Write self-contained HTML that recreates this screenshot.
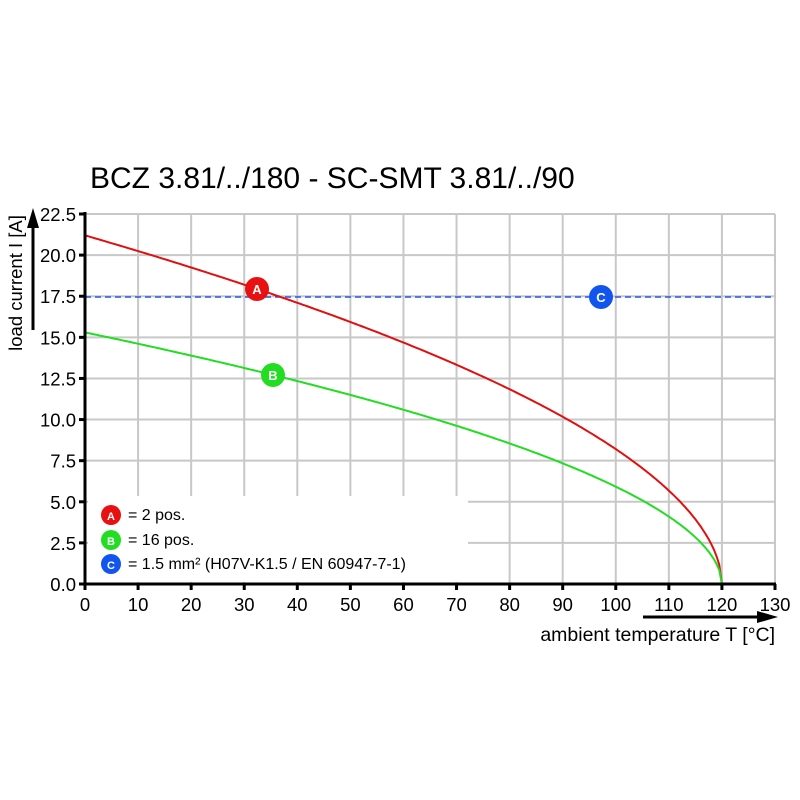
<!DOCTYPE html>
<html><head><meta charset="utf-8"><style>
html,body{margin:0;padding:0;background:#fff;}
svg{display:block;font-family:"Liberation Sans",Arial,sans-serif;}
</style></head><body>
<svg id="s" width="800" height="800" xmlns="http://www.w3.org/2000/svg">
<rect width="800" height="800" fill="#fff"/>
<text x="90" y="188" font-size="30" fill="#000">BCZ 3.81/../180 - SC-SMT 3.81/../90</text>
<g id="grid" stroke="#c8c8c8" stroke-width="2"></g>
<rect x="88" y="496" width="380" height="86" fill="#fff"/>
<line x1="85" y1="297" x2="775" y2="297" stroke="#2255ee" stroke-width="1.6" stroke-dasharray="6,4"/>
<path id="red" fill="none" stroke="#e01010" stroke-width="2"/>
<path id="green" fill="none" stroke="#22dd22" stroke-width="2"/>
<line x1="85" y1="212" x2="85" y2="586" stroke="#000" stroke-width="3"/>
<line x1="84" y1="584" x2="776" y2="584" stroke="#000" stroke-width="3"/>
<g id="ticks" stroke="#000" stroke-width="3"></g>
<g id="labels" font-size="18.5" fill="#000"></g>
<line x1="33" y1="330" x2="33" y2="225" stroke="#000" stroke-width="3"/>
<polygon points="33,208 27,228 39,228" fill="#000"/>
<text transform="translate(22,283) rotate(-90)" text-anchor="middle" font-size="18.5">load current I [A]</text>
<line x1="643" y1="617" x2="760" y2="617" stroke="#000" stroke-width="3"/>
<polygon points="778,617 757,611 757,623" fill="#000"/>
<text x="775" y="641" text-anchor="end" font-size="19.5">ambient temperature T [°C]</text>
<g font-weight="bold" font-size="13" fill="#fff" text-anchor="middle">
<circle cx="257" cy="289" r="12" fill="#e81010"/><text x="257" y="294">A</text>
<circle cx="273" cy="375" r="12" fill="#22dd22"/><text x="273" y="380">B</text>
<circle cx="601" cy="297" r="12" fill="#1155ee"/><text x="601" y="302">C</text>
<circle cx="111" cy="515" r="10" fill="#e81010"/><text x="111" y="520" font-size="11">A</text>
<circle cx="111" cy="540" r="10" fill="#22dd22"/><text x="111" y="545" font-size="11">B</text>
<circle cx="111" cy="564" r="10" fill="#1155ee"/><text x="111" y="569" font-size="11">C</text>
</g>
<g font-size="16" fill="#000">
<text x="128" y="520">= 2 pos.</text>
<text x="128" y="545">= 16 pos.</text>
<text x="128" y="569">= 1.5 mm² (H07V-K1.5 / EN 60947-7-1)</text>
</g>
</svg>
<script>
var X=function(t){return 85+t*(690/130)},Y=function(i){return 584-i*(370/22.5)};
var g=document.getElementById('grid'),tk=document.getElementById('ticks'),lb=document.getElementById('labels'),ns='http://www.w3.org/2000/svg';
function el(p,n,a,t){var e=document.createElementNS(ns,n);for(var k in a)e.setAttribute(k,a[k]);if(t)e.textContent=t;p.appendChild(e);}
for(var t=10;t<=130;t+=10){el(g,'line',{x1:X(t),y1:214,x2:X(t),y2:584});el(tk,'line',{x1:X(t),y1:584,x2:X(t),y2:590});}
el(tk,'line',{x1:85,y1:584,x2:85,y2:590});
for(var t=0;t<=130;t+=10)el(lb,'text',{x:X(t),y:611,'text-anchor':'middle'},String(t));
for(var i=2.5;i<=22.5;i+=2.5){el(g,'line',{x1:85,y1:Y(i),x2:775,y2:Y(i)});el(tk,'line',{x1:79,y1:Y(i),x2:85,y2:Y(i)});}
el(tk,'line',{x1:79,y1:584,x2:85,y2:584});
for(var i=0;i<=22.5;i+=2.5)el(lb,'text',{x:76,y:Y(i)+7,'text-anchor':'end'},i.toFixed(1));
function curve(id,i0,k){var d='';for(var t=0;t<=120;t+=0.5){var v=i0*Math.pow(1-t/120,k);d+=(t?'L':'M')+X(t).toFixed(1)+','+Y(v).toFixed(1);}document.getElementById(id).setAttribute('d',d);}
curve('red',21.2,0.53);curve('green',15.3,0.53);
</script>
</body></html>
